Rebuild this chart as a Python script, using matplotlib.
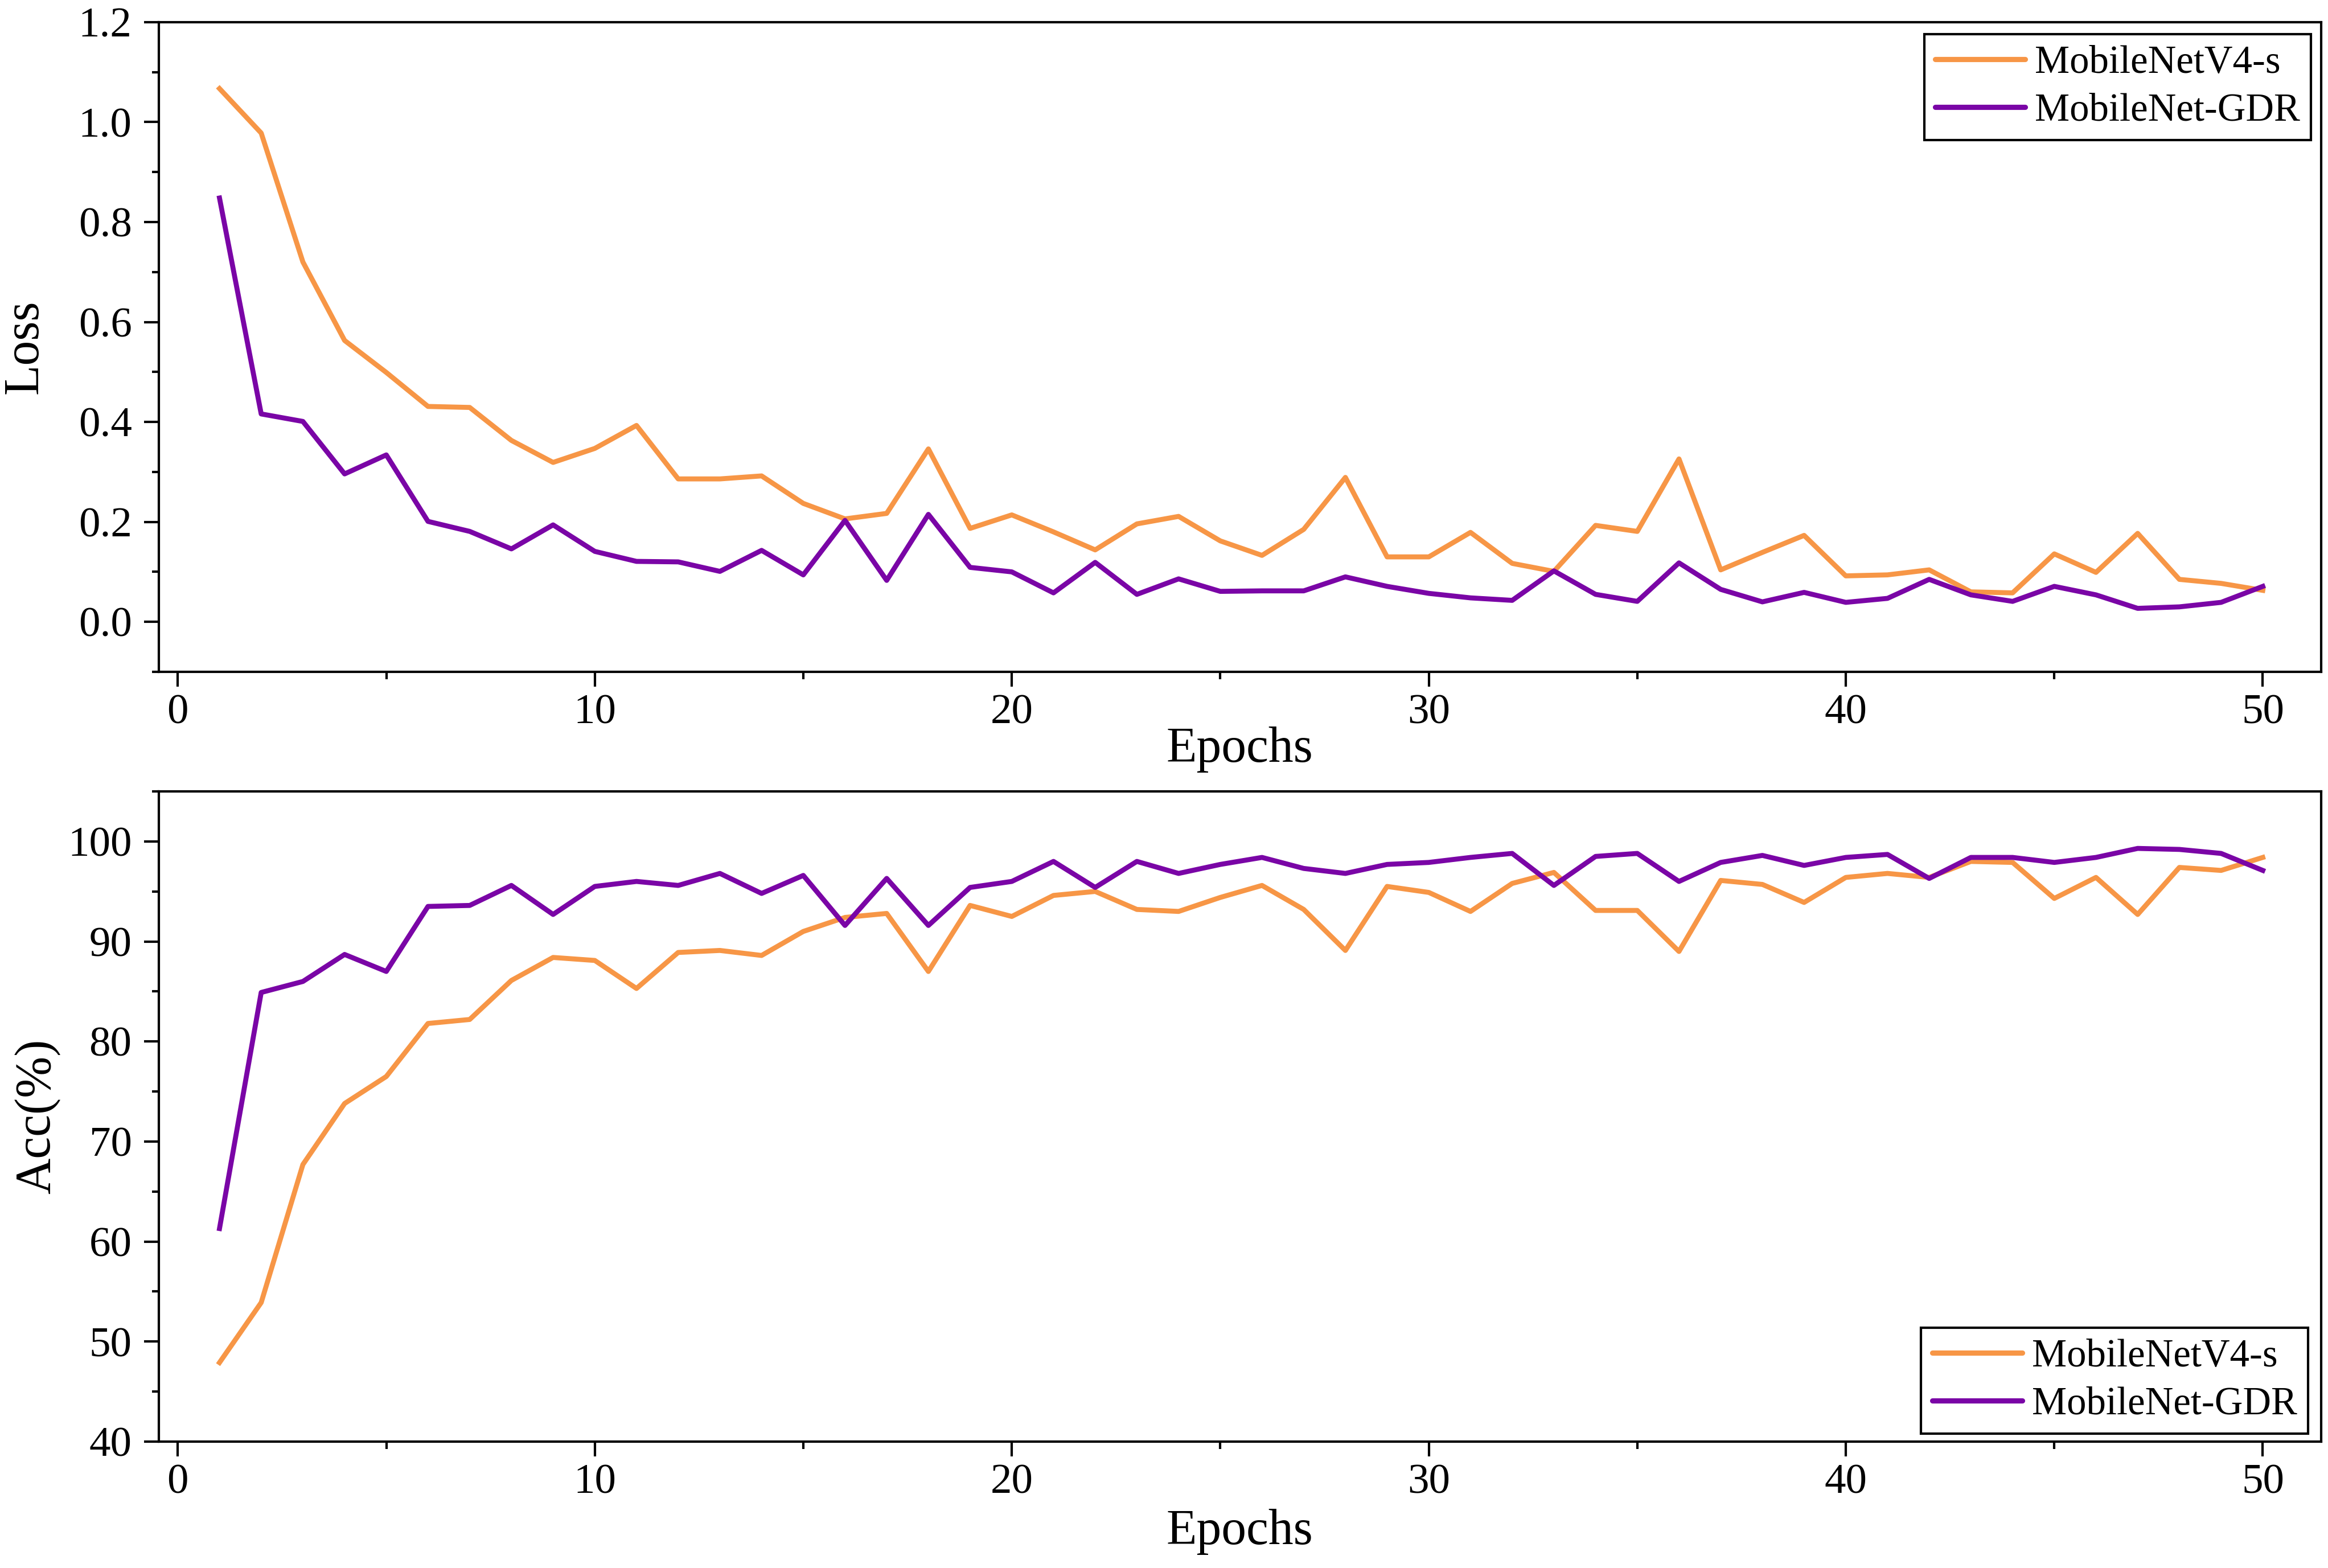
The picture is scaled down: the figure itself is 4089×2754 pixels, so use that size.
import matplotlib
matplotlib.use('Agg')
import matplotlib.pyplot as plt
from matplotlib.ticker import MultipleLocator, FormatStrFormatter

plt.rcParams['font.family'] = ['Liberation Serif', 'DejaVu Serif']

epochs = list(range(1, 51))

loss_v4 = [1.067, 0.978, 0.720, 0.563, 0.499, 0.431, 0.429, 0.363, 0.319, 0.347,
           0.393, 0.286, 0.286, 0.292, 0.237, 0.206, 0.217, 0.346, 0.187, 0.214,
           0.180, 0.144, 0.196, 0.211, 0.162, 0.133, 0.185, 0.289, 0.130, 0.130,
           0.179, 0.117, 0.101, 0.193, 0.181, 0.326, 0.104, 0.139, 0.173, 0.092,
           0.094, 0.104, 0.060, 0.058, 0.136, 0.099, 0.177, 0.085, 0.077, 0.063]
loss_gdr = [0.848, 0.416, 0.401, 0.296, 0.334, 0.201, 0.181, 0.146, 0.194, 0.141,
            0.121, 0.120, 0.101, 0.143, 0.094, 0.203, 0.083, 0.215, 0.109, 0.100,
            0.058, 0.119, 0.055, 0.086, 0.061, 0.062, 0.062, 0.090, 0.071, 0.057,
            0.048, 0.043, 0.102, 0.055, 0.041, 0.118, 0.065, 0.040, 0.059, 0.039,
            0.047, 0.085, 0.054, 0.041, 0.071, 0.054, 0.027, 0.030, 0.039, 0.071]

acc_v4 = [47.9, 53.9, 67.7, 73.8, 76.5, 81.8, 82.2, 86.1, 88.4, 88.1,
          85.3, 88.9, 89.1, 88.6, 91.0, 92.4, 92.8, 87.0, 93.6, 92.5,
          94.6, 95.0, 93.2, 93.0, 94.4, 95.6, 93.2, 89.1, 95.5, 94.9,
          93.0, 95.8, 96.9, 93.1, 93.1, 89.0, 96.1, 95.7, 93.9, 96.4,
          96.8, 96.4, 98.0, 97.9, 94.3, 96.4, 92.7, 97.4, 97.1, 98.4]
acc_gdr = [61.3, 84.9, 86.0, 88.7, 87.0, 93.5, 93.6, 95.6, 92.7, 95.5,
           96.0, 95.6, 96.8, 94.8, 96.6, 91.6, 96.3, 91.6, 95.4, 96.0,
           98.0, 95.4, 98.0, 96.8, 97.7, 98.4, 97.3, 96.8, 97.7, 97.9,
           98.4, 98.8, 95.6, 98.5, 98.8, 96.0, 97.9, 98.6, 97.6, 98.4,
           98.7, 96.3, 98.4, 98.4, 97.9, 98.4, 99.3, 99.2, 98.8, 97.1]

names = ['MobileNetV4-s', 'MobileNet-GDR']
colors = ['#F79646', '#7A05A6']

W, H = 4089, 2754
fig = plt.figure(figsize=(W / 300, H / 300), dpi=300)
# axes boxes (pixel edges)
left, right = 278.6 / W, 4077 / W
ax1 = fig.add_axes([left, 1 - 1180 / H, right - left, (1180 - 38.8) / H])
ax2 = fig.add_axes([left, 1 - 2532 / H, right - left, (2532 - 1390) / H])


def style(ax, ylabel, ycoord, xcoord):
    ax.set_xlim(-0.46, 51.4)
    ax.xaxis.set_major_locator(MultipleLocator(10))
    ax.xaxis.set_minor_locator(MultipleLocator(5))
    ax.tick_params(which='major', direction='out', length=6.3, width=1.0,
                   labelsize=18)
    ax.tick_params(which='minor', direction='out', length=3.0, width=1.0)
    ax.tick_params(axis='x', which='major', pad=3)
    ax.tick_params(axis='y', which='major', pad=5)
    for s in ax.spines.values():
        s.set_linewidth(1.0)
    ax.set_xlabel('Epochs', fontsize=21)
    ax.set_ylabel(ylabel, fontsize=21)
    ax.xaxis.set_label_coords(0.5, xcoord)
    ax.yaxis.set_label_coords(ycoord, 0.5)


ax1.plot(epochs, loss_v4, color=colors[0], lw=2.1, label=names[0])
ax1.plot(epochs, loss_gdr, color=colors[1], lw=2.1, label=names[1])
ax1.set_ylim(-0.1, 1.2)
ax1.yaxis.set_major_locator(MultipleLocator(0.2))
ax1.yaxis.set_minor_locator(MultipleLocator(0.1))
ax1.yaxis.set_major_formatter(FormatStrFormatter('%.1f'))
style(ax1, 'Loss', -0.051, -0.084)

ax2.plot(epochs, acc_v4, color=colors[0], lw=2.1, label=names[0])
ax2.plot(epochs, acc_gdr, color=colors[1], lw=2.1, label=names[1])
ax2.set_ylim(40, 105)
ax2.yaxis.set_major_locator(MultipleLocator(10))
ax2.yaxis.set_minor_locator(MultipleLocator(5))
style(ax2, 'Acc(%)', -0.0454, -0.103)

for ax, loc, anchor in [(ax1, 'upper right', (0.9953, 0.9814)),
                        (ax2, 'lower right', (0.9939, 0.0123))]:
    leg = ax.legend(loc=loc, bbox_to_anchor=anchor, borderaxespad=0,
                    fontsize=16.5, frameon=True, fancybox=False,
                    edgecolor='black', framealpha=1, handlelength=2.3,
                    handletextpad=0.25, labelspacing=0.3, borderpad=0.28)
    leg.get_frame().set_linewidth(1.0)
    for line in leg.get_lines():
        line.set_linewidth(2.2)
        line.set_solid_capstyle('round')

fig.savefig('out.png', dpi=300)
